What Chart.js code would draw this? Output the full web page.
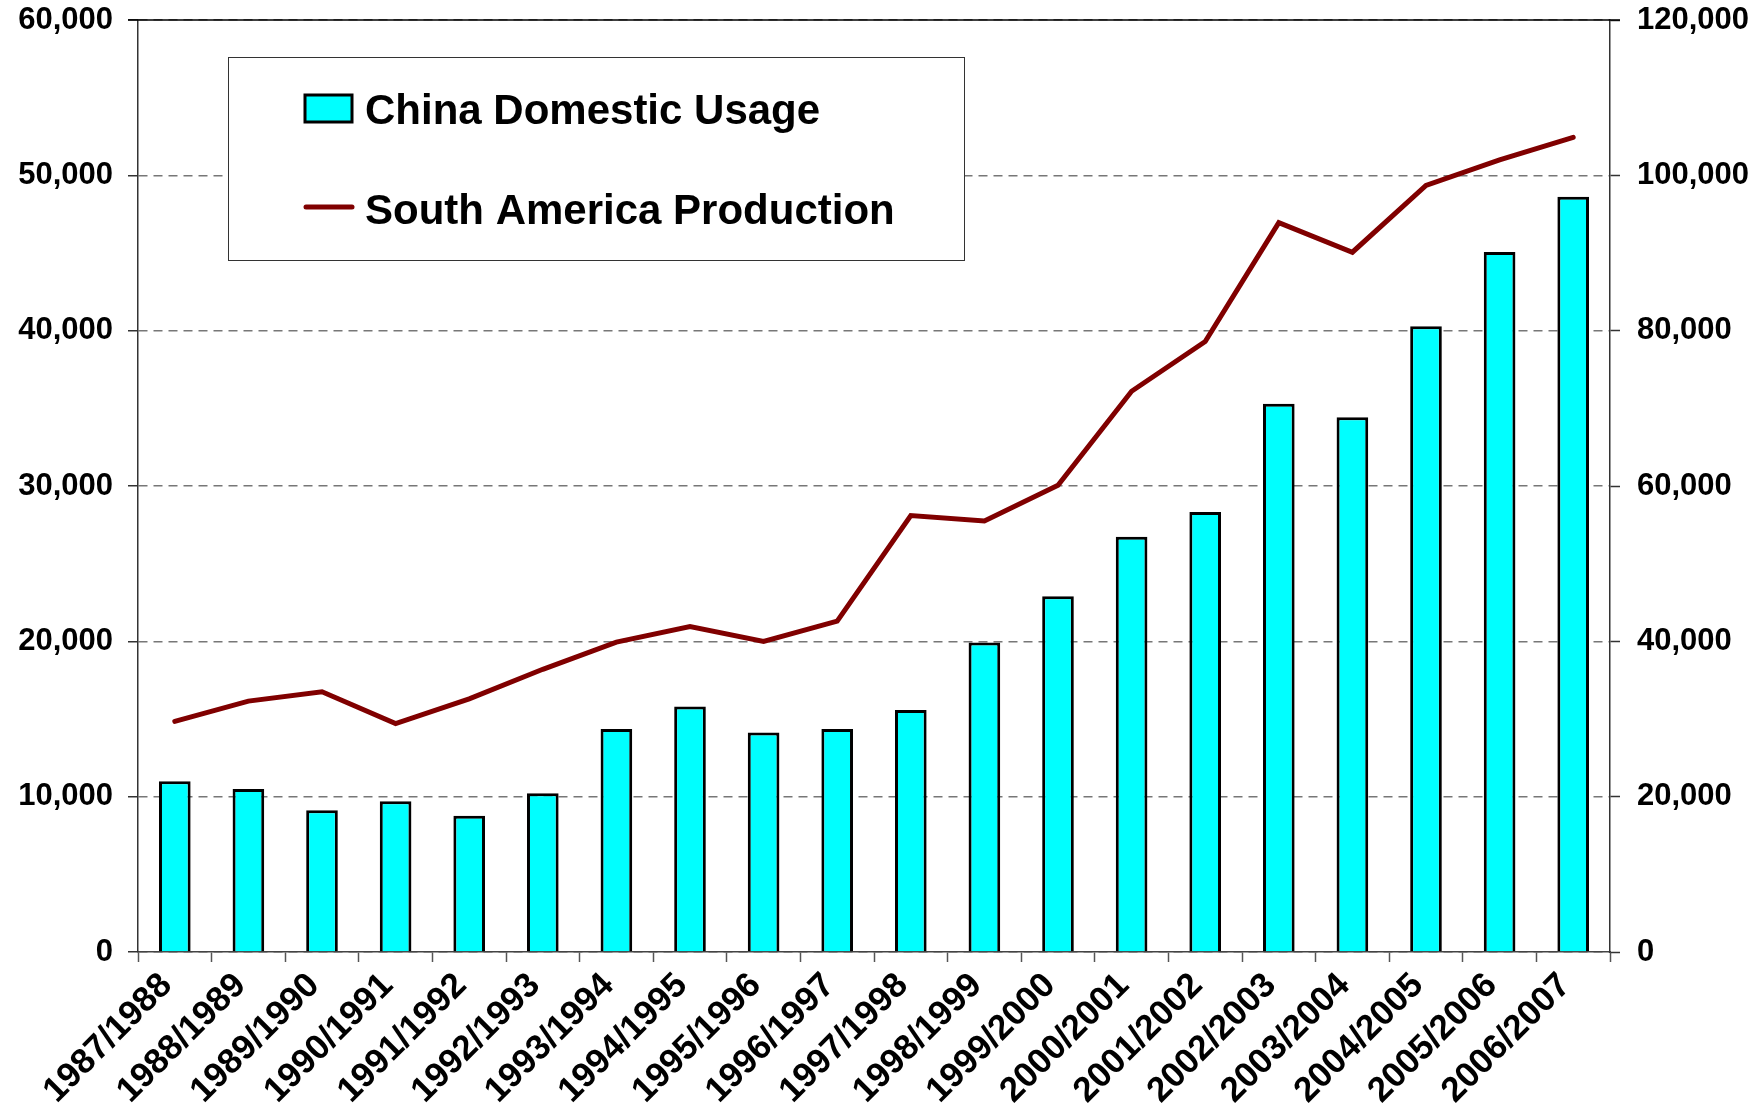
<!DOCTYPE html>
<html>
<head>
<meta charset="utf-8">
<script src="https://cdn.jsdelivr.net/npm/chart.js@4"></script>
<style>
  body { margin: 0; background: #fff; }
  canvas { display: block; }
</style>
</head>
<body>
<canvas id="chart" width="1764" height="1109"></canvas>
<script>
const seasons = ["1987/1988", "1988/1989", "1989/1990", "1990/1991", "1991/1992", "1992/1993",
  "1993/1994", "1994/1995", "1995/1996", "1996/1997", "1997/1998", "1998/1999", "1999/2000",
  "2000/2001", "2001/2002", "2002/2003", "2003/2004", "2004/2005", "2005/2006", "2006/2007"];
const chinaUsage = [11000, 10500, 9130, 9710, 8770, 10220, 14350, 15800, 14130, 14350,
  15580, 19930, 22900, 26740, 28330, 35290, 34420, 40290, 45070, 48620];
const southAmerica = [29700, 32300, 33500, 29400, 32600, 36400, 39900, 41900, 40000, 42600,
  56200, 55500, 60100, 72200, 78600, 93900, 90100, 98700, 102000, 104900];
const leftTicks = [0, 10000, 20000, 30000, 40000, 50000, 60000];
const rightTicks = [0, 20000, 40000, 60000, 80000, 100000, 120000];

const font = "'Liberation Sans', Arial, sans-serif";
const fmt = (v) => v.toLocaleString("en-US");

// legend box inside the plot + solid top border
const boxLegend = {
  id: "boxLegend",
  afterDraw(chart) {
    const c = chart.ctx;
    const a = chart.chartArea;
    c.save();
    c.strokeStyle = "#000";
    c.lineWidth = 1.5;
    c.beginPath();
    c.moveTo(a.left - 10, a.top);
    c.lineTo(a.right + 10, a.top);
    c.stroke();

    const x = a.left + 90, y = a.top + 37;
    c.fillStyle = "#fff";
    c.fillRect(x, y, 736, 203);
    c.lineWidth = 1;
    c.strokeStyle = "#333";
    c.strokeRect(x + 0.5, y + 0.5, 736, 203);

    const ds = chart.data.datasets;
    c.font = "bold 42px " + font;
    c.textBaseline = "alphabetic";
    c.textAlign = "left";

    c.fillStyle = ds[0].backgroundColor;
    c.fillRect(x + 77, y + 38, 47, 27);
    c.lineWidth = 3;
    c.strokeStyle = "#000";
    c.strokeRect(x + 77, y + 38, 47, 27);
    c.fillStyle = "#000";
    c.fillText(ds[0].label, x + 137, y + 67);

    c.strokeStyle = ds[1].borderColor;
    c.lineWidth = 5;
    c.lineCap = "round";
    c.beginPath();
    c.moveTo(x + 78, y + 150);
    c.lineTo(x + 124, y + 150);
    c.stroke();
    c.fillStyle = "#000";
    c.fillText(ds[1].label, x + 137, y + 167);
    c.restore();
  }
};

const fixY = (w) => (s) => {
  s.width = w;
  s.paddingTop = 15;
  s.paddingBottom = 15;
};

const chart = new Chart(document.getElementById("chart"), {
  data: {
    labels: seasons,
    datasets: [
      {
        type: "bar",
        label: "China Domestic Usage",
        data: chinaUsage,
        backgroundColor: "#00ffff",
        borderColor: "#000",
        borderWidth: 3,
        categoryPercentage: 1,
        barPercentage: 0.43,
        yAxisID: "y",
        order: 1
      },
      {
        type: "line",
        label: "South America Production",
        data: southAmerica,
        borderColor: "#800000",
        borderWidth: 5,
        borderCapStyle: "round",
        pointRadius: 0,
        tension: 0,
        yAxisID: "y2",
        order: 0
      }
    ]
  },
  options: {
    responsive: false,
    devicePixelRatio: 1,
    animation: false,
    layout: { padding: { top: 20, left: 0, right: 0, bottom: 0 } },
    plugins: { legend: { display: false }, tooltip: { enabled: false } },
    scales: {
      x: {
        afterFit: (s) => { s.height = 157; },
        offset: true,
        grid: { offset: true, drawOnChartArea: false, tickLength: 10, tickColor: "#555", tickWidth: 1.5 },
        border: { color: "#444", width: 1.5 },
        ticks: {
          autoSkip: false, maxRotation: 45, minRotation: 45,
          labelOffset: -8, padding: 3,
          color: "#000", font: { family: font, size: 35, weight: "bold" }
        }
      },
      y: {
        position: "left",
        min: 0, max: 60000,
        afterFit: fixY(138),
        afterBuildTicks: (s) => { s.ticks = leftTicks.map((v) => ({ value: v })); },
        grid: { color: "#777", lineWidth: 1.5, tickLength: 10, tickColor: "#333", tickWidth: 1.5 },
        border: { color: "#333", width: 1.5, dash: [9, 6] },
        ticks: { padding: 15, color: "#000", font: { family: font, size: 31, weight: "bold" }, callback: fmt }
      },
      y2: {
        position: "right",
        min: 0, max: 120000,
        afterFit: fixY(154),
        afterBuildTicks: (s) => { s.ticks = rightTicks.map((v) => ({ value: v })); },
        grid: { drawOnChartArea: false, tickLength: 10, tickColor: "#333", tickWidth: 1.5 },
        border: { color: "#333", width: 1.5 },
        ticks: { padding: 17, color: "#000", font: { family: font, size: 31, weight: "bold" }, callback: fmt }
      }
    }
  },
  plugins: [boxLegend]
});
</script>
</body>
</html>
